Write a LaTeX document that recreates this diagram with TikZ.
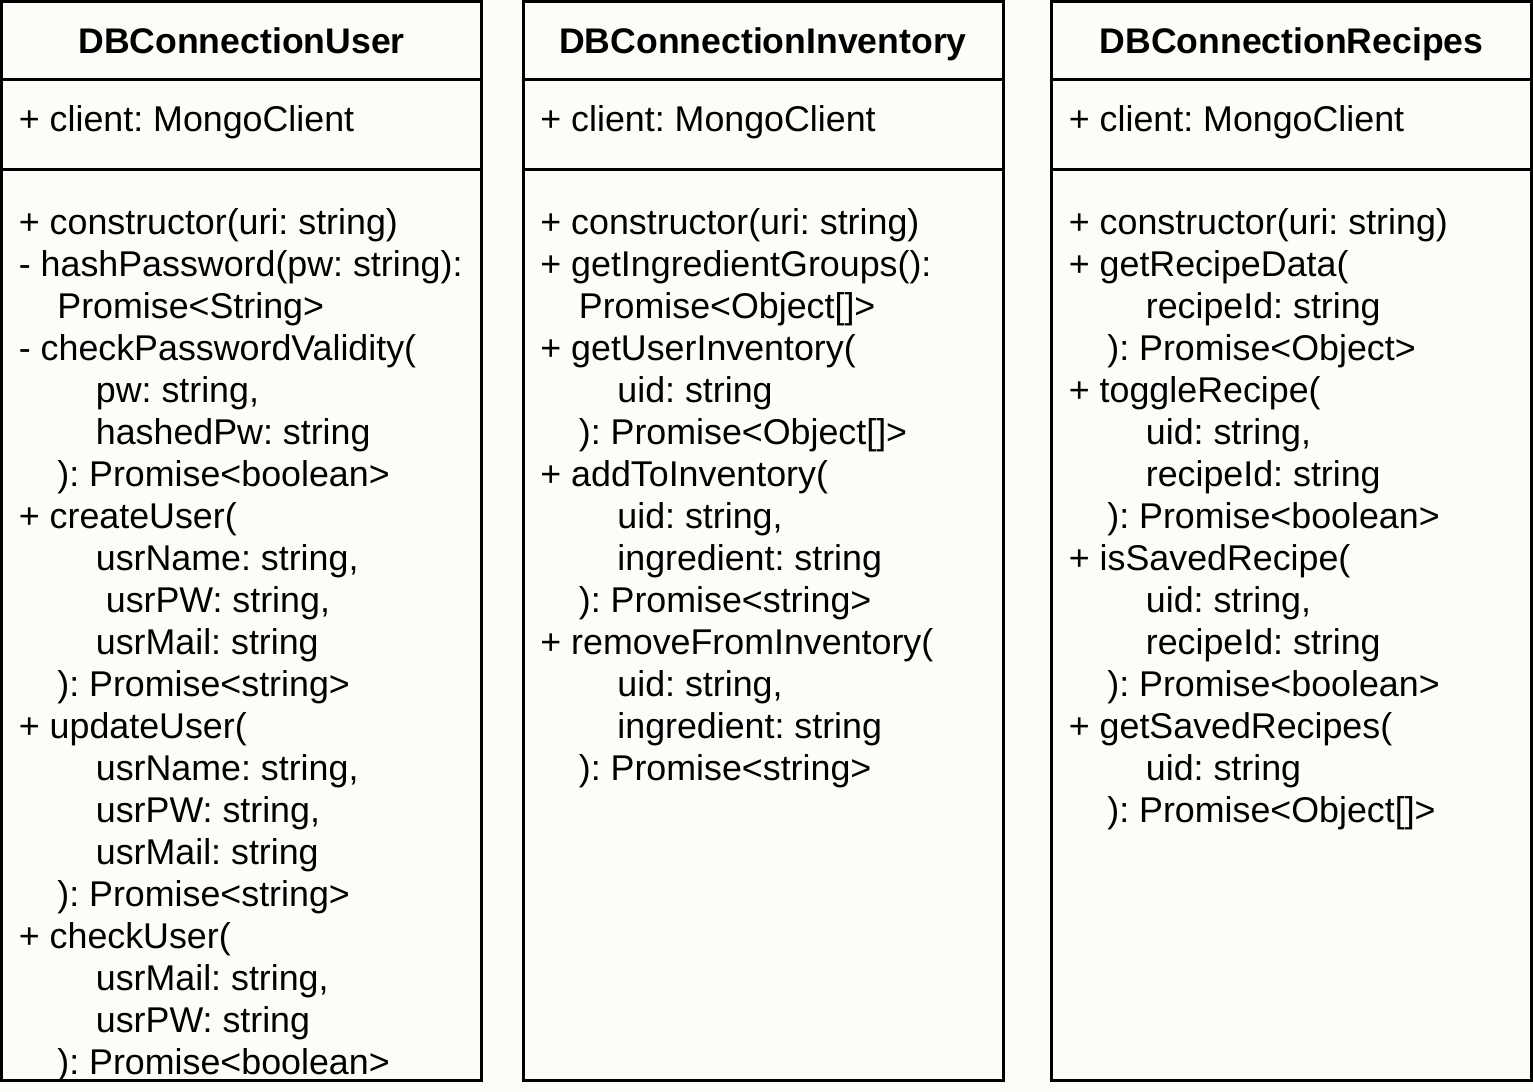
\documentclass[tikz,border=0pt]{standalone}
\usepackage{fontspec}
\setmainfont{Liberation Sans}
\usepackage{xcolor}
\usepackage{tikz}
\usetikzlibrary{positioning}
\frenchspacing

\definecolor{paper}{RGB}{252,252,248}
\newcommand{\indA}{\hspace*{19.25pt}}
\newcommand{\indB}{\hspace*{38.5pt}}

\begin{document}
\begin{tikzpicture}[x=0.5pt,y=-0.5pt,node distance=0pt]
\tikzset{
  cell/.style={draw,line width=1.5pt,minimum width=240pt,inner sep=0pt,outer sep=0pt},
  headcell/.style={cell,minimum height=38.75pt,text depth=0pt,
    font=\fontsize{17.8pt}{21pt}\selectfont\bfseries},
  attrcell/.style={cell,minimum height=45.25pt},
  opcell/.style={cell,minimum height=455.5pt},
  member/.style={inner sep=0pt,anchor=base west,
    font=\fontsize{17.9pt}{21pt}\selectfont\frenchspacing},
  memberlist/.style={member,anchor=north west,align=left}
}
\fill[paper] (0,0) rectangle (1533,1092);
\useasboundingbox (0,0) rectangle (1533,1092);

% DBConnectionUser
\node[headcell,anchor=north west] (usrHead) at (1.5,1.5) {DBConnectionUser};
\node[attrcell,below=of usrHead] (usrAttr) {};
\node[opcell,below=of usrAttr] (usrOps) {};
\node[member] (usrAttrText) at ([shift={(17,52.7)}]usrAttr.north west) {+ client: MongoClient};
\node[memberlist] (usrOpsText) at ([shift={(17,38.3)}]usrOps.north west) {%
+ constructor(uri: string)\\
- hashPassword(pw: string):\\
\indA Promise<String>\\
- checkPasswordValidity(\\
\indB pw: string,\\
\indB hashedPw: string\\
\indA ): Promise<boolean>\\
+ createUser(\\
\indB usrName: string,\\
\indB\ usrPW: string,\\
\indB usrMail: string\\
\indA ): Promise<string>\\
+ updateUser(\\
\indB usrName: string,\\
\indB usrPW: string,\\
\indB usrMail: string\\
\indA ): Promise<string>\\
+ checkUser(\\
\indB usrMail: string,\\
\indB usrPW: string\\
\indA ): Promise<boolean>};

% DBConnectionInventory
\node[headcell,anchor=north west] (invHead) at (523,1.5) {DBConnectionInventory};
\node[attrcell,below=of invHead] (invAttr) {};
\node[opcell,below=of invAttr] (invOps) {};
\node[member] (invAttrText) at ([shift={(17,52.7)}]invAttr.north west) {+ client: MongoClient};
\node[memberlist] (invOpsText) at ([shift={(17,38.3)}]invOps.north west) {%
+ constructor(uri: string)\\
+ getIngredientGroups():\\
\indA Promise<Object[]>\\
+ getUserInventory(\\
\indB uid: string\\
\indA ): Promise<Object[]>\\
+ addToInventory(\\
\indB uid: string,\\
\indB ingredient: string\\
\indA ): Promise<string>\\
+ removeFromInventory(\\
\indB uid: string,\\
\indB ingredient: string\\
\indA ): Promise<string>};

% DBConnectionRecipes
\node[headcell,anchor=north west] (recHead) at (1051.5,1.5) {DBConnectionRecipes};
\node[attrcell,below=of recHead] (recAttr) {};
\node[opcell,below=of recAttr] (recOps) {};
\node[member] (recAttrText) at ([shift={(17,52.7)}]recAttr.north west) {+ client: MongoClient};
\node[memberlist] (recOpsText) at ([shift={(17,38.3)}]recOps.north west) {%
+ constructor(uri: string)\\
+ getRecipeData(\\
\indB recipeId: string\\
\indA ): Promise<Object>\\
+ toggleRecipe(\\
\indB uid: string,\\
\indB recipeId: string\\
\indA ): Promise<boolean>\\
+ isSavedRecipe(\\
\indB uid: string,\\
\indB recipeId: string\\
\indA ): Promise<boolean>\\
+ getSavedRecipes(\\
\indB uid: string\\
\indA ): Promise<Object[]>};
\end{tikzpicture}
\end{document}
